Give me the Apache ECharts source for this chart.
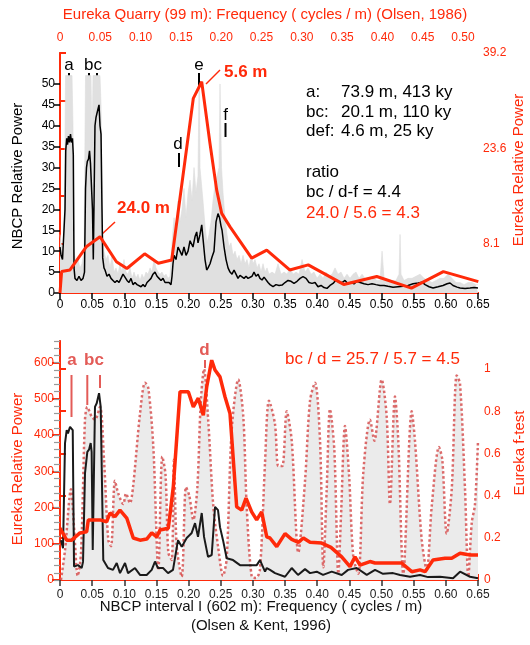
<!DOCTYPE html>
<html><head><meta charset="utf-8">
<script src="https://cdn.jsdelivr.net/npm/echarts@6/dist/echarts.min.js"></script>
<style>html,body{margin:0;padding:0;background:#fff}#c{width:530px;height:645px}</style>
</head><body><div id="c"></div>
<script>
// ---------- Top panel ----------
// NBCP relative power (black) : [NBCP frequency, power]
const nbcpTop = [[0,11],[0.0016,9],[0.0039,8],[0.0054,8.2],[0.0078,20],[0.0089,34],[0.0104,37],[0.0117,35.5],[0.0132,37.5],[0.0148,36],[0.0163,38],[0.0179,36],[0.0194,37],[0.0207,33],[0.0218,6],[0.0233,3.5],[0.0264,3],[0.0295,4],[0.0327,3],[0.0358,3.5],[0.0381,5],[0.0397,25],[0.0412,30],[0.0425,31.5],[0.0443,32],[0.0459,34],[0.0474,31],[0.049,31],[0.0505,20],[0.0518,8],[0.0532,25],[0.0544,40],[0.056,42],[0.0575,43],[0.0591,44],[0.0607,45],[0.0622,40],[0.0638,38],[0.0653,20],[0.0664,8.4],[0.0684,6],[0.07,5.5],[0.0731,4],[0.0762,4.5],[0.0793,3.5],[0.0824,3],[0.0855,2.5],[0.0886,3],[0.0918,2.5],[0.0949,3.5],[0.098,4.5],[0.1011,4.8],[0.1042,3],[0.1073,2.5],[0.1104,3.5],[0.1135,2],[0.1166,2.5],[0.1198,2],[0.1229,2],[0.126,1.5],[0.1291,2],[0.1322,1.5],[0.1353,2.5],[0.1384,3],[0.1415,3.5],[0.1446,4.5],[0.1477,5],[0.1509,4],[0.154,3.5],[0.1571,3],[0.1602,3.5],[0.1633,2.5],[0.1664,2.5],[0.1695,2.5],[0.1726,2],[0.1742,4],[0.1757,7],[0.1773,9],[0.1804,8],[0.1835,11],[0.1866,10],[0.1897,9],[0.1928,11],[0.196,9],[0.1991,10],[0.2022,12.5],[0.2048,12.7],[0.2068,11],[0.21,13.5],[0.2126,14.6],[0.2146,12],[0.2177,14],[0.2204,16.3],[0.2224,13],[0.2255,8],[0.2281,5.5],[0.2302,6],[0.2333,7],[0.2364,8.6],[0.2395,10],[0.2426,17],[0.2457,19],[0.2481,18],[0.2504,16],[0.252,15],[0.2551,11],[0.2582,8],[0.2613,6],[0.2644,5],[0.2675,4.5],[0.2706,5.5],[0.2737,4.5],[0.2768,3.5],[0.2799,4.2],[0.283,4.5],[0.2862,3.5],[0.2893,4],[0.2924,3.5],[0.2955,3.1],[0.2986,4],[0.3017,5],[0.3048,4],[0.3079,4.5],[0.311,3.5],[0.3142,3.1],[0.3173,3.8],[0.3204,3.5],[0.3235,2.5],[0.3266,2],[0.3313,1.5],[0.3359,2],[0.3406,1.8],[0.3453,1.9],[0.3499,2.5],[0.3546,3],[0.3593,2.8],[0.3639,2.3],[0.3686,2.8],[0.3733,3.5],[0.3779,3.9],[0.3826,3.5],[0.3872,2.5],[0.3919,2.3],[0.3966,2.5],[0.4012,1.5],[0.4059,1.8],[0.4106,1.3],[0.4152,1.1],[0.4199,1.8],[0.4246,2.3],[0.4292,3.1],[0.4339,2.5],[0.4386,2.5],[0.4432,3],[0.4479,2.2],[0.4526,2.5],[0.4572,2.2],[0.4619,2.8],[0.4666,2.5],[0.4728,2.2],[0.479,2],[0.4852,2.2],[0.4914,2],[0.4977,1.8],[0.5039,1.8],[0.5101,1.6],[0.5179,1.4],[0.5257,1.5],[0.5334,1.6],[0.5412,1.8],[0.549,2.2],[0.5568,2.4],[0.563,2.6],[0.5677,2],[0.5739,1.5],[0.5801,1.2],[0.5879,1.5],[0.5956,1.8],[0.6019,2.2],[0.6065,2.4],[0.6112,1.8],[0.6174,1.4],[0.6221,1.2],[0.6299,1.1],[0.6376,1.2],[0.6439,1.3],[0.65,1.2]];
// NBCP upper envelope (grey band)
const nbcpEnvelope = [[0,14],[0.0016,12],[0.0047,10],[0.007,20],[0.0086,52],[0.0187,52],[0.0202,40],[0.0218,10],[0.0249,7],[0.028,8],[0.0311,6],[0.0342,7],[0.0373,10],[0.0397,52],[0.0482,52],[0.0498,35],[0.0513,52],[0.0622,52],[0.0638,45],[0.0661,15],[0.0684,10],[0.0715,8],[0.0746,9],[0.0778,6],[0.0809,9],[0.084,5],[0.0871,6],[0.0902,4.5],[0.0933,7],[0.0964,5],[0.0995,8],[0.1026,5],[0.1058,4.5],[0.1089,6],[0.112,3.5],[0.1151,5],[0.1182,3.5],[0.1213,4.5],[0.1244,3],[0.1275,4.5],[0.1306,3.5],[0.1337,5],[0.1369,4.5],[0.14,6],[0.1431,5],[0.1462,8],[0.1493,6],[0.1524,5],[0.1555,4.5],[0.1586,5],[0.1617,4],[0.1649,4.5],[0.168,3.5],[0.1711,4],[0.1742,12],[0.1773,18],[0.1804,15],[0.1835,22],[0.1866,17],[0.1897,20],[0.1928,25],[0.196,18],[0.1991,24],[0.2022,27],[0.2053,22],[0.2084,30],[0.2115,24],[0.2146,28],[0.216,48],[0.2169,50],[0.2177,30],[0.2224,22],[0.2255,16],[0.2286,12],[0.2317,14],[0.2348,17],[0.2379,22],[0.2411,26],[0.2442,28],[0.2473,30],[0.2488,50],[0.25,50],[0.2512,30],[0.2535,24],[0.2566,18],[0.2597,14],[0.2628,11],[0.2659,12],[0.2691,9],[0.2722,10],[0.2753,8],[0.2784,9],[0.2815,7],[0.2846,9],[0.2877,7],[0.2908,8],[0.2939,6],[0.297,9],[0.3002,7],[0.3033,8],[0.3064,6],[0.3095,7],[0.3126,5],[0.3157,7],[0.3188,5],[0.3219,6],[0.325,4.5],[0.3297,5],[0.3344,4.5],[0.339,7],[0.3437,4.5],[0.3484,5],[0.353,4.5],[0.3577,6],[0.3624,4.5],[0.367,5],[0.3717,4.5],[0.3764,8],[0.381,5],[0.3857,6],[0.3904,4.5],[0.395,5],[0.3997,3.5],[0.4044,4.5],[0.409,3.5],[0.4137,5],[0.4184,4],[0.423,4.5],[0.4277,6],[0.4323,4.5],[0.437,5],[0.4417,3.5],[0.4463,4.5],[0.451,3.5],[0.4557,4.5],[0.4603,5],[0.465,3.5],[0.4697,4.5],[0.4743,3.5],[0.479,3.5],[0.4837,3],[0.4883,3.5],[0.493,3],[0.4977,3],[0.5008,10],[0.5039,3.5],[0.5101,3],[0.5163,3],[0.5225,3],[0.5272,4.5],[0.5288,14],[0.5303,4.5],[0.535,3],[0.5412,3.5],[0.5474,3.5],[0.5536,4],[0.5599,4.5],[0.5661,3.5],[0.5723,3],[0.5785,2.5],[0.5848,3],[0.591,3.5],[0.5972,3.5],[0.6034,4.5],[0.6096,3.5],[0.6159,2.5],[0.6221,2.5],[0.6283,2],[0.6345,2.5],[0.6407,2.5],[0.6469,2],[0.65,2]];
// Eureka relative power (red) : [Eureka frequency, power]
const eurekaTop = [[0,0],[0.002,3.5],[0.0124,3.76],[0.033,7.6],[0.0496,9.2],[0.07,5.1],[0.083,4.0],[0.105,6.4],[0.122,4.85],[0.1386,5.4],[0.1654,31.8],[0.1758,34.5],[0.186,24.5],[0.1944,16.8],[0.2006,13],[0.211,10.8],[0.2378,5.7],[0.2565,7.0],[0.285,3.76],[0.308,4.6],[0.352,1.4],[0.393,2.7],[0.436,0.8],[0.4756,3.5],[0.519,1.85]];

// ---------- Bottom panel ----------
const nbcpBottom = [[0.0016,110],[0.0047,88],[0.0078,378],[0.0104,414],[0.0124,405],[0.0156,423],[0.0182,428],[0.0198,414],[0.0218,37],[0.028,41],[0.0337,33],[0.0358,50],[0.0389,295],[0.0425,354],[0.0451,360],[0.0477,378],[0.0492,354],[0.0509,83],[0.0544,478],[0.0571,488],[0.0607,516],[0.0633,478],[0.0673,55],[0.0746,33],[0.0824,28],[0.0882,47],[0.0933,19],[0.1011,47],[0.1058,19],[0.1166,33],[0.1244,14],[0.1348,14],[0.1426,28],[0.1477,51],[0.1524,33],[0.1602,33],[0.168,19],[0.1757,28],[0.1835,110],[0.1893,92],[0.197,116],[0.2048,130],[0.21,157],[0.2146,119],[0.2204,185],[0.224,119],[0.2302,64],[0.2359,69],[0.2411,202],[0.2457,193],[0.2488,146],[0.2535,110],[0.2592,60],[0.2691,55],[0.2799,41],[0.2924,41],[0.3059,41],[0.311,55],[0.3188,23],[0.3215,33],[0.3266,28],[0.3344,19],[0.3499,9],[0.3603,33],[0.3701,14],[0.381,30],[0.3888,19],[0.3992,23],[0.409,14],[0.4225,23],[0.4381,14],[0.4479,28],[0.4614,33],[0.477,14],[0.4899,28],[0.5023,17],[0.5179,19],[0.5288,14],[0.5443,9],[0.5599,14],[0.5723,8],[0.591,9],[0.6112,5],[0.6221,23],[0.6376,9],[0.65,5]];
const eurekaBottom = [[0,143],[0.0083,110],[0.0145,110],[0.0248,130],[0.0331,133],[0.0351,166],[0.0496,166],[0.0579,161],[0.062,185],[0.0682,175],[0.0744,193],[0.0828,171],[0.0909,116],[0.0993,110],[0.1076,113],[0.1138,130],[0.12,119],[0.1241,138],[0.1344,143],[0.1406,258],[0.1489,520],[0.1592,520],[0.1654,478],[0.1716,502],[0.1778,455],[0.182,533],[0.1882,607],[0.1923,580],[0.1985,561],[0.2047,506],[0.2109,460],[0.2192,202],[0.2254,193],[0.2308,226],[0.2378,188],[0.244,166],[0.2502,188],[0.2565,119],[0.2605,116],[0.2689,92],[0.2792,128],[0.2875,112],[0.2957,104],[0.3019,116],[0.3102,104],[0.3247,102],[0.3362,90],[0.3495,64],[0.3598,37],[0.366,64],[0.3722,41],[0.3846,51],[0.3908,47],[0.4239,47],[0.4364,23],[0.4467,28],[0.4529,23],[0.4628,55],[0.4777,60],[0.486,60],[0.4963,74],[0.5087,69],[0.5186,69]];
const eurekaFtest = [[0.0012,0],[0.0062,0.14],[0.0136,0.43],[0.0174,0.25],[0.022,0.02],[0.0261,0.13],[0.031,0.76],[0.0339,0.82],[0.0393,0.775],[0.0434,0.76],[0.0496,0.82],[0.0546,0.57],[0.0599,0.19],[0.0633,0.16],[0.0682,0.47],[0.0723,0.41],[0.0785,0.36],[0.0819,0.41],[0.0868,0.365],[0.0906,0.44],[0.0993,0.79],[0.1055,0.935],[0.1096,0.91],[0.1158,0.63],[0.122,0.047],[0.1269,0.585],[0.1309,0.5],[0.1344,0.13],[0.1386,0.095],[0.1414,0.57],[0.1448,0.16],[0.151,0.016],[0.1563,0.44],[0.1604,0.4],[0.1654,0.285],[0.1704,0.44],[0.1746,0.84],[0.1787,1.0],[0.184,0.75],[0.1902,0.35],[0.1964,0.15],[0.2022,0.02],[0.2068,0.1],[0.213,0.71],[0.2212,0.95],[0.2274,0.775],[0.2316,0.35],[0.2378,0.016],[0.2432,0.01],[0.2481,0.05],[0.2543,0.55],[0.2593,0.85],[0.2667,0.74],[0.2708,0.54],[0.2758,0.54],[0.2813,0.8],[0.2875,0.66],[0.2957,0.13],[0.304,0.47],[0.3102,0.85],[0.3164,0.935],[0.3226,0.66],[0.3267,0.06],[0.3309,0.43],[0.335,0.81],[0.3403,0.62],[0.3453,0.03],[0.3486,0.3],[0.3536,0.73],[0.3586,0.5],[0.3639,0.11],[0.3701,0.03],[0.3763,0.51],[0.3846,0.76],[0.39,0.66],[0.3991,0.95],[0.4053,0.775],[0.4094,0.36],[0.4156,0.87],[0.4197,0.66],[0.4259,0.03],[0.4364,0.8],[0.4404,0.66],[0.4488,0.19],[0.455,0.047],[0.4612,0.35],[0.4702,0.63],[0.4743,0.57],[0.4798,0.22],[0.486,0.43],[0.4922,0.97],[0.4963,0.93],[0.5025,0.43],[0.5066,0.016],[0.5108,0.27],[0.5149,0.36],[0.5186,0.66]];

// Axis tick values
const nbcpFreqMax = 0.65, eurekaFreqMax = 0.5186;
const topLeftTicks = [0,5,10,15,20,25,30,35,40,45,50];
const topRightTicks = [8.1,15.85,23.6,31.35,39.2];
const topRightLabels = [8.1,23.6,39.2];
const botLeftTicks = [0,100,200,300,400,500,600];
const botRightTicks = [0,0.2,0.4,0.6,0.8,1];

const RED = '#ff2a0a';
const FONT = 'Liberation Sans, Arial, Helvetica, sans-serif';
const fmtF = v => v === 0 ? '0' : v.toFixed(2);

const chart = echarts.init(document.getElementById('c'), null, {renderer:'canvas'});
const txt = (x,y,s,opt) => Object.assign({type:'text', x, y, style:Object.assign({text:s, font:'17px '+FONT, fill:'#000', textVerticalAlign:'middle'}, opt||{})});
const vline = (x,y1,y2,c,w) => ({type:'line', shape:{x1:x,y1:y1,x2:x,y2:y2}, style:{stroke:c, lineWidth:w||2}});
const seg = (x1,y1,x2,y2,c,w) => ({type:'line', shape:{x1,y1,x2,y2}, style:{stroke:c, lineWidth:w||1.5}});
const annRed = '#e35b57';

chart.setOption({
  animation:false,
  textStyle:{fontFamily:FONT},
  grid:[
    {left:60, top:53, width:418, height:240},
    {left:60, top:341, width:418, height:239}
  ],
  xAxis:[
    {gridIndex:0, type:'value', position:'bottom', min:0, max:nbcpFreqMax, interval:0.05,
     axisLine:{lineStyle:{color:RED, width:2}}, axisTick:{lineStyle:{color:'#000', width:1.5}, length:6},
     axisLabel:{color:'#000', fontSize:12, margin:6, formatter:fmtF}, splitLine:{show:false}},
    {gridIndex:0, type:'value', position:'top', min:0, max:eurekaFreqMax, interval:0.05,
     axisLine:{lineStyle:{color:RED, width:2}}, axisTick:{lineStyle:{color:RED, width:2}, length:6},
     axisLabel:{color:RED, fontSize:12, margin:9, formatter:fmtF, showMaxLabel:false}, splitLine:{show:false}},
    {gridIndex:1, type:'value', position:'bottom', min:0, max:nbcpFreqMax, interval:0.05,
     axisLine:{lineStyle:{color:'#333', width:1.5}}, axisTick:{lineStyle:{color:'#333', width:1.5}, length:6},
     axisLabel:{color:'#222', fontSize:12, margin:9, formatter:fmtF}, splitLine:{show:false}},
    {gridIndex:1, type:'value', position:'top', min:0, max:eurekaFreqMax, interval:0.05,
     axisLine:{lineStyle:{color:RED, width:2}}, axisTick:{lineStyle:{color:RED, width:2}, length:6},
     axisLabel:{show:false}, splitLine:{show:false}}
  ],
  yAxis:[
    {gridIndex:0, type:'value', position:'left', min:0, max:57.4, interval:5,
     axisLine:{show:true, lineStyle:{color:'#000', width:1.5}},
     axisTick:{show:true, customValues:topLeftTicks, length:6, lineStyle:{color:'#000', width:1.5}},
     axisLabel:{customValues:topLeftTicks, color:'#000', fontSize:12, margin:5}, splitLine:{show:false}},
    {gridIndex:0, type:'value', position:'right', min:0, max:39.2,
     axisLine:{show:true, lineStyle:{color:RED, width:2}},
     axisTick:{show:true, customValues:topRightTicks, length:6, lineStyle:{color:RED, width:2}},
     axisLabel:{customValues:topRightLabels, color:RED, fontSize:12, margin:5, formatter:v=>String(v)}, splitLine:{show:false}},
    {gridIndex:1, type:'value', position:'left', min:0, max:660, interval:100,
     axisLine:{show:true, lineStyle:{color:'#444', width:1.5}},
     axisTick:{show:true, customValues:botLeftTicks, length:8, lineStyle:{color:RED, width:2}},
     axisLabel:{customValues:botLeftTicks, color:RED, fontSize:12, margin:6}, splitLine:{show:false}},
    {gridIndex:1, type:'value', position:'right', min:0, max:1.133,
     axisLine:{show:true, lineStyle:{color:RED, width:2}},
     axisTick:{show:true, customValues:botRightTicks, length:6, lineStyle:{color:RED, width:2}},
     axisLabel:{customValues:botRightTicks, color:RED, fontSize:12, margin:6, formatter:v=>String(Math.round(v*10)/10)}, splitLine:{show:false}},
    {gridIndex:1, type:'value', position:'left', min:0, max:660, interval:20,
     axisLine:{show:false}, axisTick:{show:true, length:6, lineStyle:{color:'#999', width:1.2}},
     axisLabel:{show:false}, splitLine:{show:false}}
  ],
  series:[
    {type:'line', xAxisIndex:0, yAxisIndex:0, data:nbcpEnvelope, symbol:'none', silent:true,
     lineStyle:{width:0.6, color:'#dcdcdc'}, areaStyle:{color:'#e0e0e0', opacity:1}, z:1},
    {type:'line', xAxisIndex:0, yAxisIndex:0, data:nbcpTop, symbol:'none',
     lineStyle:{width:1.5, color:'#000'}, z:3},
    {type:'line', xAxisIndex:1, yAxisIndex:1, data:eurekaTop, symbol:'none',
     lineStyle:{width:3, color:RED}, z:4},
    {type:'line', xAxisIndex:3, yAxisIndex:3, data:eurekaFtest, symbol:'none', smooth:0.3,
     lineStyle:{width:2.5, color:'#d85a5a', type:'dotted', opacity:0.9}, areaStyle:{color:'#ebebeb', opacity:1}, z:1},
    {type:'line', xAxisIndex:2, yAxisIndex:2, data:nbcpBottom, symbol:'none',
     lineStyle:{width:2, color:'#1a1a1a'}, z:3},
    {type:'line', xAxisIndex:3, yAxisIndex:2, data:eurekaBottom, symbol:'none',
     lineStyle:{width:3.5, color:RED}, z:4}
  ],
  graphic:[
    txt(265,15,'Eureka Quarry (99 m): Frequency ( cycles / m) (Olsen, 1986)',{font:'15px '+FONT, fill:RED, textAlign:'center'}),
    {type:'text', x:18, y:176, rotation:Math.PI/2, style:{text:'NBCP Relative Power', font:'15px '+FONT, fill:'#000', textAlign:'center', textVerticalAlign:'middle'}},
    {type:'text', x:519, y:170, rotation:Math.PI/2, style:{text:'Eureka Relative Power', font:'15px '+FONT, fill:RED, textAlign:'center', textVerticalAlign:'middle'}},
    {type:'text', x:18, y:469, rotation:Math.PI/2, style:{text:'Eureka Relative Power', font:'15px '+FONT, fill:RED, textAlign:'center', textVerticalAlign:'middle'}},
    {type:'text', x:520, y:453, rotation:Math.PI/2, style:{text:'Eureka f-test', font:'15px '+FONT, fill:RED, textAlign:'center', textVerticalAlign:'middle'}},
    txt(261,607,'NBCP interval I (602 m): Frequency ( cycles / m)',{font:'15px '+FONT, fill:'#111', textAlign:'center'}),
    txt(261,626,'(Olsen & Kent, 1996)',{font:'15px '+FONT, fill:'#111', textAlign:'center'}),
    // top annotations
    txt(69,65,'a',{textAlign:'center'}), vline(69,73,80,'#000'),
    txt(93,65,'bc',{textAlign:'center'}), vline(89,73,80,'#000'), vline(97,73,80,'#000'),
    txt(199,65,'e',{textAlign:'center'}), vline(199,73,87,'#000'),
    txt(178,144,'d',{textAlign:'center'}), vline(179,153,167,'#000'),
    txt(225.5,115,'f',{textAlign:'center'}), vline(225.5,123,137,'#000'),
    txt(224,72,'5.6 m',{font:'bold 17px '+FONT, fill:RED}), seg(206,84,220,70,RED),
    txt(117,208,'24.0 m',{font:'bold 17px '+FONT, fill:RED}), seg(101,235,115,222,RED),
    txt(306,92,'a:'), txt(341,92,'73.9 m, 413 ky'),
    txt(306,112,'bc:'), txt(341,112,'20.1 m, 110 ky'),
    txt(306,131,'def:'), txt(341,131,'4.6 m, 25 ky'),
    txt(306,172,'ratio'),
    txt(306,192,'bc / d-f = 4.4'),
    txt(306,213,'24.0 / 5.6 = 4.3',{fill:RED}),
    // bottom annotations
    txt(72,360,'a',{fill:annRed, textAlign:'center', font:'bold 17px '+FONT}), vline(71.5,375,417,annRed),
    txt(94,360,'bc',{fill:annRed, textAlign:'center', font:'bold 17px '+FONT}), vline(87.3,375,405,annRed), vline(100,375,388,annRed),
    txt(204.5,350,'d',{fill:annRed, textAlign:'center', font:'bold 17px '+FONT}), vline(205,360,368,annRed),
    txt(285,359,'bc / d = 25.7 / 5.7 = 4.5',{fill:RED})
  ]
});
</script>
</body></html>
